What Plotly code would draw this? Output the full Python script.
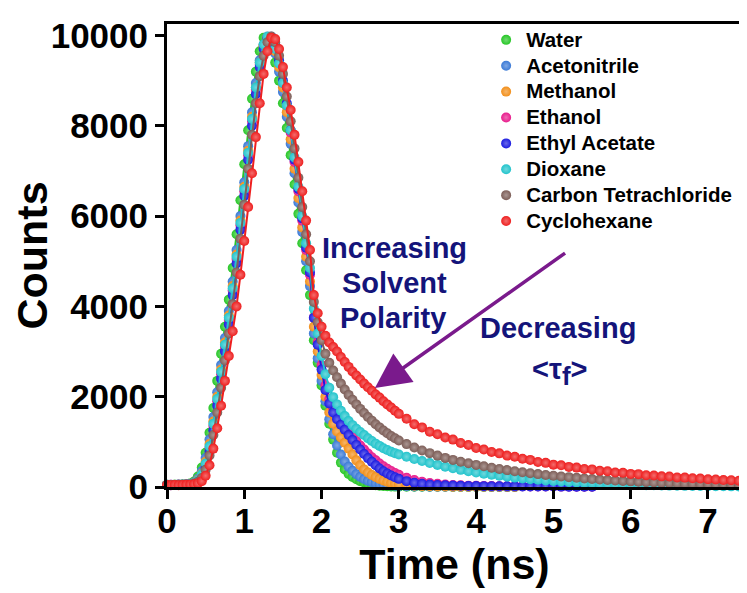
import plotly.graph_objects as go

# ---------------- data ----------------
TIME = [0.00, 0.05, 0.10, 0.15, 0.20, 0.25, 0.30, 0.35, 0.40, 0.45,
        0.50, 0.55, 0.60, 0.65, 0.70, 0.75, 0.80, 0.85, 0.90, 0.95,
        1.00, 1.05, 1.10, 1.15, 1.20, 1.25, 1.30, 1.35, 1.40, 1.45,
        1.50, 1.55, 1.60, 1.65, 1.70, 1.75, 1.80, 1.85, 1.90, 1.95,
        2.00, 2.05, 2.10, 2.15, 2.20, 2.25, 2.30, 2.35, 2.40, 2.45,
        2.50, 2.55, 2.60, 2.65, 2.70, 2.75, 2.80, 2.85, 2.90, 2.95,
        3.00, 3.1, 3.2, 3.3, 3.4, 3.5, 3.6, 3.7, 3.8, 3.9,
        4.0, 4.1, 4.2, 4.3, 4.4, 4.5, 4.6, 4.7, 4.8, 4.9,
        5.0, 5.1, 5.2, 5.3, 5.4, 5.5, 5.6, 5.7, 5.8, 5.9,
        6.0, 6.1, 6.2, 6.3, 6.4, 6.5, 6.6, 6.7, 6.8, 6.9,
        7.0, 7.1, 7.2, 7.3, 7.4, 7.5]

WATER = [48, 45, 52, 48, 55, 62, 75, 120, 230, 430,
         760, 1200, 1750, 2350, 2950, 3550, 4150, 4850, 5600, 6350,
         7150, 7900, 8600, 9200, 9650, 9950, 9900, 9700, 9400, 9000,
         8500, 7950, 7350, 6700, 6050, 5400, 4800, 4250,
         3250, 2750, 2250, 1800, 1400, 1050, 760, 540, 390, 290, 220, 170,
         130, 100, 75, 55, 40, 30, 22, 16, 12, 9, 7,
         6, 5, 5, 4, 4, 4, 3, 3, 3, 3, 3, 2, 2, 2, 2]

ACETONITRILE = [52, 50, 46, 53, 50, 58, 68, 100, 185, 350,
                640, 1050, 1550, 2100, 2700, 3300, 3900, 4550, 5250, 6000,
                6750, 7550, 8300, 8950, 9450, 9800, 9950, 9850, 9600, 9200,
                8750, 8200, 7600, 6950, 6300, 5650, 5000, 4450,
                3400, 2850, 2350, 1900, 1500, 1170, 920, 720, 565, 450, 360, 285,
                225, 178, 140, 110, 86, 68, 53, 42, 33, 26, 20,
                15, 12, 10, 8, 7, 6, 5, 5, 4, 4, 4, 3, 3, 3, 3]

METHANOL = [47, 42, 50, 46, 52, 55, 64, 90, 160, 300,
            560, 950, 1450, 2000, 2600, 3200, 3800, 4450, 5150, 5900,
            6650, 7450, 8200, 8850, 9400, 9780, 9950, 9900, 9650, 9300,
            8850, 8300, 7700, 7050, 6400, 5750, 5100, 4550,
            3550, 3000, 2480, 2000, 1650, 1400, 1230, 1100, 980, 850, 720, 590,
            480, 390, 320, 265, 220, 180, 145, 118, 95, 76, 60,
            40, 28, 20, 15, 12, 10, 8, 7, 6, 5, 5, 4, 4, 4, 3]

ETHANOL = [45, 48, 44, 50, 47, 53, 60, 82, 140, 260,
           480, 850, 1350, 1900, 2500, 3100, 3700, 4350, 5050, 5800,
           6550, 7350, 8100, 8800, 9350, 9750, 9970, 9950, 9750, 9400,
           8950, 8450, 7850, 7200, 6550, 5900, 5250, 4700,
           3750, 3200, 2700, 2250, 1950, 1750, 1600, 1470, 1350, 1240, 1130, 1020,
           920, 830, 740, 660, 590, 520, 460, 405, 355, 310, 270,
           205, 155, 118, 90, 70, 55, 44, 36, 30, 26, 23, 20, 18, 16, 15,
           14, 13, 12, 11, 10, 9, 9, 8, 8, 7]

ETHYL_ACETATE = [43, 40, 47, 44, 50, 52, 58, 75, 120, 220,
                 420, 780, 1250, 1800, 2400, 3000, 3600, 4250, 4950, 5700,
                 6450, 7250, 8000, 8700, 9300, 9700, 9950, 9970, 9800, 9450,
                 9000, 8500, 7900, 7250, 6600, 5950, 5300, 4750,
                 3750, 3150, 2600, 2150, 1850, 1650, 1500, 1380, 1270, 1150, 1040, 930,
                 830, 730, 640, 560, 480, 410, 350, 300, 255, 215, 180,
                 130, 95, 72, 56, 45, 37, 31, 27, 24, 21, 19, 17, 16, 15, 14,
                 13, 12, 11, 10, 10, 9, 8, 8, 7, 7]

DIOXANE = [47, 44, 49, 46, 51, 56, 63, 85, 150, 280,
           520, 900, 1400, 1950, 2550, 3150, 3750, 4400, 5100, 5850,
           6600, 7400, 8150, 8850, 9400, 9800, 9980, 9900, 9700, 9380,
           8950, 8450, 7900, 7300, 6650, 6000, 5400, 4850,
           3950, 3400, 2900, 2500, 2200, 1990, 1830, 1690, 1570, 1460, 1370, 1290,
           1220, 1150, 1080, 1020, 960, 910, 860, 820, 780, 750, 720,
           670, 620, 575, 530, 490, 450, 415, 380, 350, 320,
           295, 270, 248, 228, 208, 190, 174, 159, 145, 132,
           120, 109, 99, 90, 82, 74, 67, 61, 55, 50,
           45, 41, 37, 34, 31, 28, 25, 23, 21, 19,
           17, 16, 14, 13, 12]

CARBON_TETRACHLORIDE = [41, 46, 43, 49, 52, 50, 58, 72, 115, 200,
                        380, 700, 1150, 1650, 2200, 2800, 3400, 4050, 4750, 5500,
                        6250, 7050, 7800, 8500, 9100, 9550, 9850, 9980, 9850, 9550,
                        9150, 8650, 8100, 7500, 6850, 6200, 5600, 5000,
                        4100, 3650, 3250, 2950, 2750, 2580, 2430, 2290, 2160, 2040, 1930, 1830,
                        1730, 1640, 1550, 1470, 1390, 1320, 1250, 1190, 1130, 1080, 1030,
                        950, 875, 810, 750, 695, 645, 600, 560, 525, 490,
                        458, 428, 400, 374, 350, 327, 306, 286, 267, 250,
                        233, 218, 203, 190, 177, 165, 154, 144, 134, 125,
                        116, 108, 101, 94, 87, 81, 75, 70, 65, 60,
                        56, 52, 48, 45, 42]

CYCLOHEXANE = [44, 40, 42, 38, 45, 48, 52, 60, 80, 130,
               250, 480, 850, 1300, 1800, 2350, 2900, 3450, 4000, 4700,
               5450, 6200, 6950, 7750, 8500, 9150, 9650, 9950, 9920, 9700,
               9300, 8850, 8350, 7800, 7200, 6550, 5900, 5250,
               4250, 3850, 3550, 3350, 3200, 3100, 3000, 2880, 2770, 2660, 2560, 2470,
               2380, 2290, 2210, 2130, 2050, 1980, 1900, 1830, 1760, 1690, 1620,
               1510, 1390, 1320, 1225, 1170, 1095, 1050, 975, 930, 865,
               830, 775, 745, 695, 670, 625, 600, 555, 535, 495,
               480, 445, 430, 400, 390, 360, 350, 320, 315, 290,
               285, 260, 255, 236, 232, 212, 208, 192, 188, 172,
               168, 154, 151, 139, 136]

SOLVENTS = ["Water", "Acetonitrile", "Methanol", "Ethanol", "Ethyl Acetate",
            "Dioxane", "Carbon Tetrachloride", "Cyclohexane"]
SERIES = [WATER, ACETONITRILE, METHANOL, ETHANOL, ETHYL_ACETATE,
          DIOXANE, CARBON_TETRACHLORIDE, CYCLOHEXANE]
COLORS = ["#27c727", "#3b7ad6", "#f2901c", "#e81c8c", "#1c1ce0",
          "#22c4cc", "#7d5e58", "#ee1f1f"]

X_TICKS = [0, 1, 2, 3, 4, 5, 6, 7]
Y_TICKS = [0, 2000, 4000, 6000, 8000, 10000]

for name, vals in zip(SOLVENTS, SERIES):
    assert len(vals) <= len(TIME), (name, len(vals))


def tint(hex_color, f=0.35):
    r, g, b = (int(hex_color[i:i + 2], 16) for i in (1, 3, 5))
    r, g, b = (int(c + (255 - c) * f) for c in (r, g, b))
    return f"rgb({r},{g},{b})"


FONT = "Liberation Sans, Arial, sans-serif"

fig = go.Figure()
for name, vals, color in zip(SOLVENTS, SERIES, COLORS):
    t = TIME[:len(vals)]
    fig.add_trace(go.Scatter(
        x=t, y=vals, mode="lines", line=dict(color=color, width=2),
        showlegend=False, legendgroup=name, hoverinfo="skip"))
    fig.add_trace(go.Scatter(
        x=t, y=vals, mode="markers",
        name=f"<span style='font-size:20.5px'>{name}</span>",
        legendgroup=name, cliponaxis=False,
        marker=dict(color=color, size=10,
                    gradient=dict(type="radial", color=tint(color)))))

ann_font = dict(family=FONT, size=29, color="#14147a", weight="bold")
annotations = [
    dict(x=2.95, y=5293, text="Increasing"),
    dict(x=2.94, y=4518, text="Solvent"),
    dict(x=2.92, y=3743, text="Polarity"),
    dict(x=5.06, y=3522, text="Decreasing"),
    dict(x=5.08, y=2547,
         text="&lt;τ<sub><span style='font-size:26px'>f</span></sub>&gt;"),
]
for a in annotations:
    a.update(xref="x", yref="y", showarrow=False, font=ann_font)
annotations.append(dict(
    x=2.69, y=2193, ax=5.17, ay=5205, xref="x", yref="y", axref="x", ayref="y",
    showarrow=True, arrowhead=2, arrowsize=2.0, arrowwidth=3.5,
    arrowcolor="#7a1a8c", text=""))

# the page body adds an 8 px offset, so the figure is 8 px smaller
fig.update_layout(
    width=739, height=585,
    margin=dict(l=159, r=5, t=16, b=106),
    paper_bgcolor="white", plot_bgcolor="white",
    font=dict(family=FONT, color="black"),
    showlegend=True,
    legend=dict(x=0.555, y=1.0045, xanchor="left", yanchor="top",
                bgcolor="rgba(0,0,0,0)", borderwidth=0,
                font=dict(family=FONT, size=17.6, color="black", weight="bold"),
                itemsizing="trace", traceorder="normal"),
    annotations=annotations,
)
fig.update_xaxes(
    range=[0, 7.44], tickvals=X_TICKS, ticktext=[str(v) for v in X_TICKS],
    showgrid=False, zeroline=False, showline=True, linewidth=3, linecolor="black",
    mirror=True, ticks="outside", ticklen=9, tickwidth=3, tickcolor="black",
    ticklabelstandoff=-8,
    tickfont=dict(family=FONT, size=35, weight="bold"),
    title=dict(text="Time (ns)", standoff=2,
               font=dict(family=FONT, size=43, weight="bold")),
    automargin=False)
fig.update_yaxes(
    range=[0, 10255], tickvals=Y_TICKS, ticktext=[str(v) for v in Y_TICKS],
    showgrid=False, zeroline=False, showline=True, linewidth=3, linecolor="black",
    mirror=True, ticks="outside", ticklen=9, tickwidth=3, tickcolor="black",
    tickfont=dict(family=FONT, size=35, weight="bold"),
    title=dict(text="Counts", standoff=2,
               font=dict(family=FONT, size=43, weight="bold")),
    automargin=False)

fig.write_html("out.html")
